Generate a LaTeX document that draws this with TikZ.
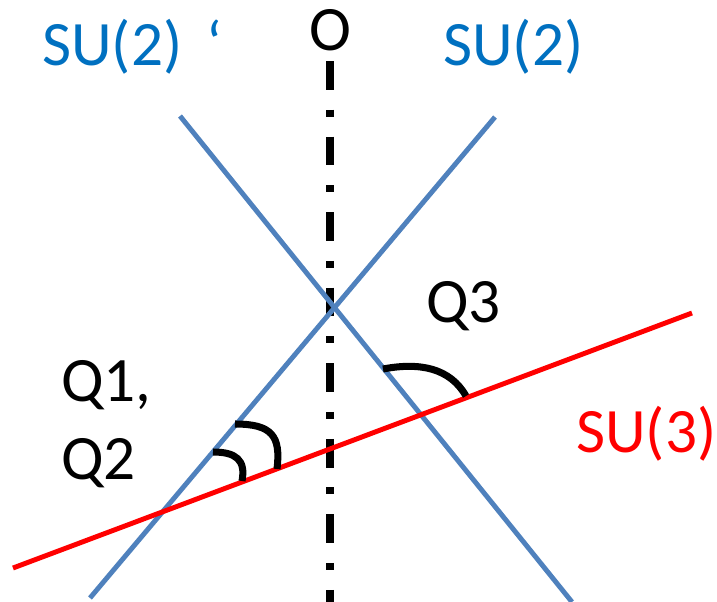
\documentclass[tikz,border=0pt]{standalone}
\usepackage{fontspec}
\setmainfont{Carlito}
\definecolor{lineblue}{HTML}{4F81BD}
\definecolor{textblue}{HTML}{0070C0}
\definecolor{sured}{HTML}{FF0000}
\tikzset{
  blueline/.style={lineblue, line width=2.8pt},
  redline/.style={sured, line width=2.8pt},
  axisline/.style={black, line width=4.5pt,
    dash pattern=on 16.4pt off 11.3pt on 4pt off 11.3pt},
  anglemark/.style={black, line width=4pt},
  lbl/.style={inner sep=0pt, anchor=base west, font=\fontsize{36}{43}\selectfont},
}
\begin{document}
\begin{tikzpicture}[x=0.02cm, y=-0.02cm]
  \useasboundingbox (0,0) rectangle (717,602);

  % End points of the lines
  \coordinate (su2pTop) at (180,116);
  \coordinate (su2pBot) at (572,602);
  \coordinate (su2Top) at (495,117);
  \coordinate (su2Bot) at (90,598);
  \coordinate (su3Left) at (13,568);
  \coordinate (su3Right) at (692,313);
  \coordinate (oTop) at (330,61);
  \coordinate (oBot) at (330,602);

  % Dash-dotted axis O
  \draw[axisline] (oTop) -- (oBot);

  % The two SU(2) lines
  \draw[blueline] (su2pTop) -- (su2pBot);
  \draw[blueline] (su2Top) -- (su2Bot);

  % The SU(3) line
  \draw[redline] (su3Left) -- (su3Right);

  % Angle marks
  \draw[anglemark] (383,369) .. controls (420,362) and (450,368) .. (466,396);
  \draw[anglemark] (235,424) .. controls (272,424) and (281,436) .. (277,469);
  \draw[anglemark] (213,452) .. controls (236,452) and (246,460) .. (242,481);

  % Labels
  \node[lbl, textblue] (su2pLabel) at (42,65) {SU(2)\hspace{0.38em}‘};
  \node[lbl, anchor=base] (oLabel) at (330,50) {O};
  \node[lbl, textblue] (su2Label) at (443,65) {SU(2)};
  \node[lbl] (q3Label) at (426,322) {Q3};
  \node[lbl] (q1Label) at (61,401) {Q1,};
  \node[lbl] (q2Label) at (61,479) {Q2};
  \node[lbl, sured] (su3Label) at (576,452) {SU(3)};
\end{tikzpicture}
\end{document}
